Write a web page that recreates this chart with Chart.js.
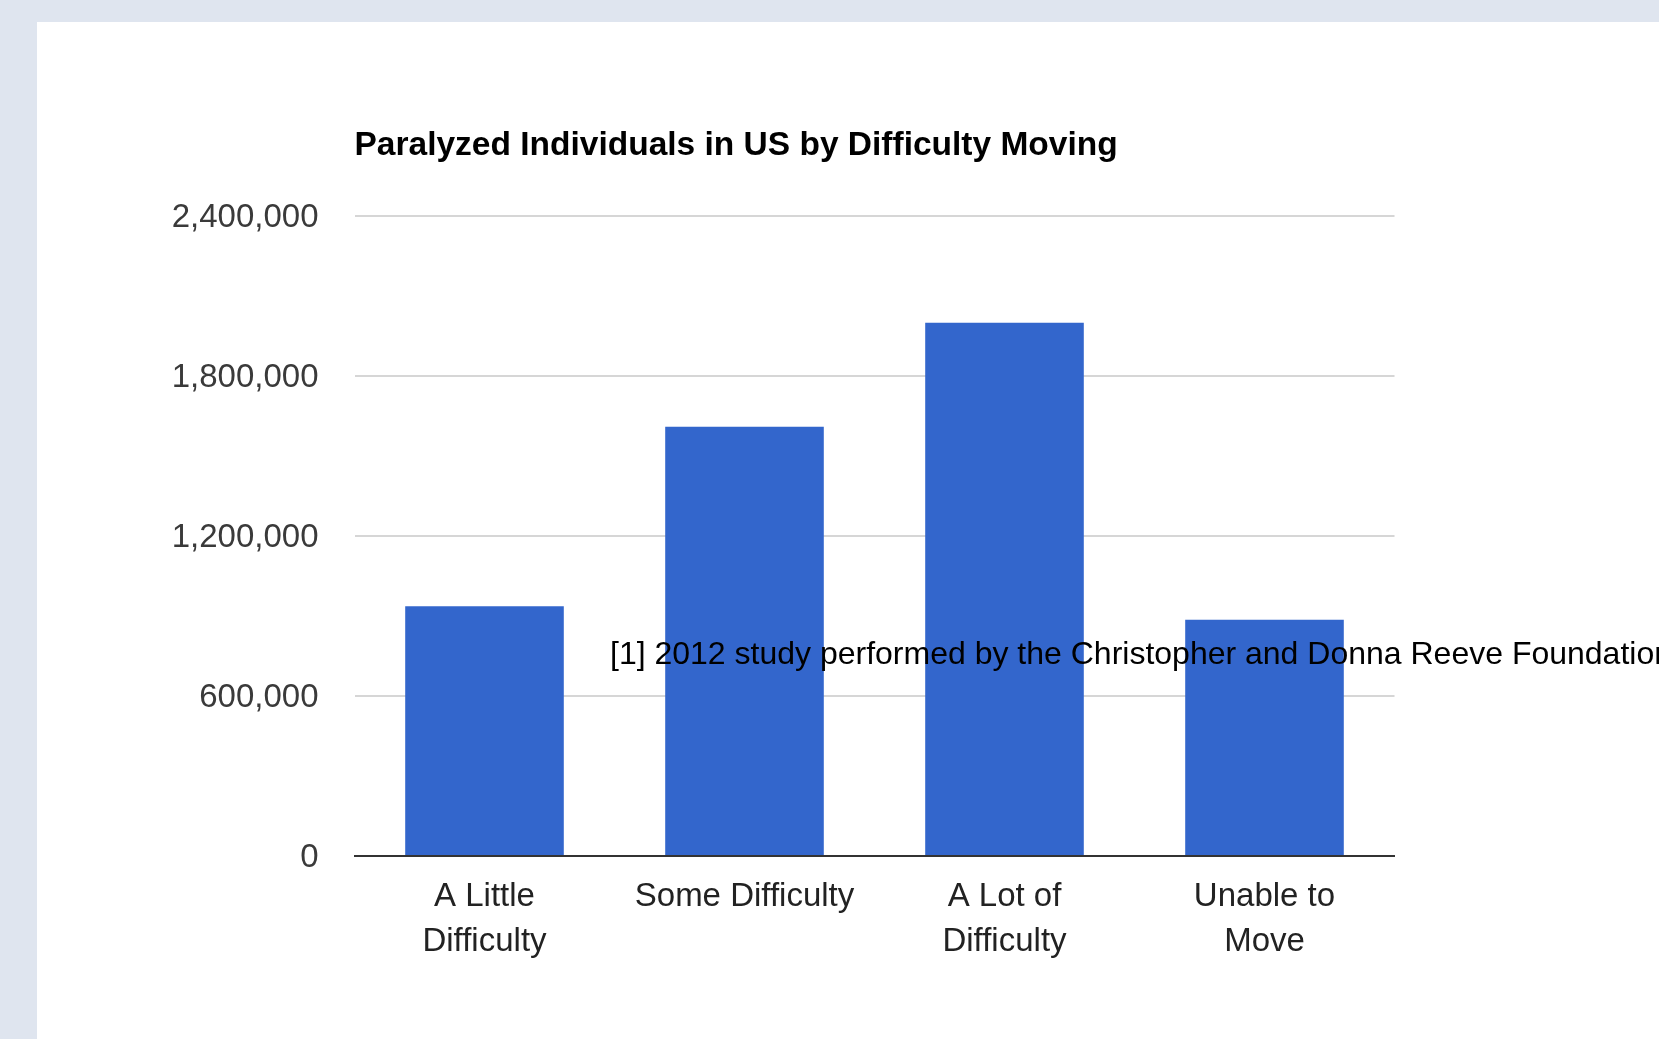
<!DOCTYPE html>
<html>
<head>
<meta charset="utf-8">
<script src="https://cdn.jsdelivr.net/npm/chart.js@4/dist/chart.umd.min.js"></script>
<style>
  html, body { margin: 0; padding: 0; width: 1659px; height: 1039px; overflow: hidden; }
  body { background: #dfe5ef; position: relative; font-family: "Liberation Sans", Arial, sans-serif; }
  #panel { position: absolute; left: 37px; top: 22px; right: 0; bottom: 0; background: #fff; }
  #chart { position: absolute; left: 0; top: 0; }
  #note { position: absolute; left: 610px; top: 635px; font-size: 32px; line-height: 36px;
          color: #000; white-space: nowrap; }
</style>
</head>
<body>
<div id="panel"></div>
<canvas id="chart" width="1659" height="1039"></canvas>
<div id="note">[1] 2012 study performed by the Christopher and Donna Reeve Foundation</div>
<script>
// Categories and values
const categories = [['A Little', 'Difficulty'], 'Some Difficulty', ['A Lot of', 'Difficulty'], ['Unable to', 'Move']];
const individuals = [937000, 1610000, 2000000, 886000];
const yTicks = [0, 600000, 1200000, 1800000, 2400000];

const ctx = document.getElementById('chart').getContext('2d');

const chart = new Chart(ctx, {
    type: 'bar',
    data: {
        labels: categories,
        datasets: [{
            label: 'Individuals',
            data: individuals,
            backgroundColor: '#3366cc',
            borderWidth: 0,
            barPercentage: 0.61,
            categoryPercentage: 1.0
        }]
    },
    options: {
        responsive: false,
        animation: false,
        layout: { padding: { top: 0, right: 264.5, bottom: 0, left: 0 } },
        plugins: {
            legend: { display: false },
            tooltip: { enabled: false },
            title: {
                display: true,
                text: 'Paralyzed Individuals in US by Difficulty Moving',
                align: 'start',
                fullSize: false,
                color: '#000',
                font: { family: 'Liberation Sans', size: 33.5, weight: 'bold', lineHeight: 1.2 },
                padding: { top: 126, bottom: 49.8 }
            }
        },
        scales: {
            x: {
                grid: { display: false, drawTicks: false },
                border: { display: true, color: '#333', width: 2 },
                ticks: {
                    color: '#222',
                    maxRotation: 0,
                    autoSkip: false,
                    padding: 19,
                    font: { family: 'Liberation Sans', size: 33, lineHeight: 1.35 }
                },
                afterFit: scale => { scale.height = 183; }
            },
            y: {
                min: 0,
                max: 2400000,
                afterBuildTicks: scale => { scale.ticks = yTicks.map(v => ({ value: v })); },
                grid: { color: '#d6d6d6', lineWidth: 2, drawTicks: false },
                border: { display: false },
                ticks: {
                    color: '#3a3a3a',
                    padding: 36,
                    labelOffset: 2,
                    font: { family: 'Liberation Sans', size: 33 },
                    callback: v => v.toLocaleString('en-US')
                },
                afterFit: scale => { scale.width = 354.5; }
            }
        }
    }
});
</script>
</body>
</html>
